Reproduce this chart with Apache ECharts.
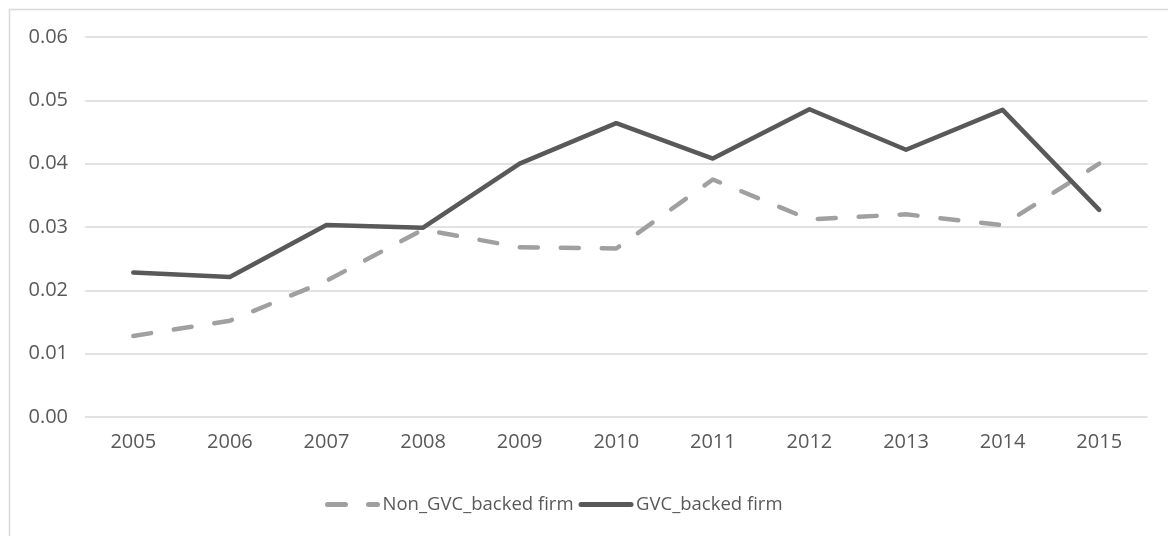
<!DOCTYPE html>
<html>
<head>
<meta charset="utf-8">
<script src="https://cdn.jsdelivr.net/npm/echarts@6/dist/echarts.min.js"></script>
<style>
html,body{margin:0;padding:0;background:#fff;}
#chart{width:1168px;height:536px;}
</style>
</head>
<body>
<div id="chart"></div>
<script>
const years = ['2005','2006','2007','2008','2009','2010','2011','2012','2013','2014','2015'];
const nonGvc = [0.0128, 0.0152, 0.0215, 0.0296, 0.0268, 0.0266, 0.0375, 0.0312, 0.0320, 0.0303, 0.0400];
const gvc = [0.0228, 0.0221, 0.0303, 0.0299, 0.0400, 0.0464, 0.0408, 0.0486, 0.0422, 0.0485, 0.0327];
const seriesNames = ['Non_GVC_backed firm', 'GVC_backed firm'];
const yTicks = {min: 0, max: 0.06, interval: 0.01};

const chart = echarts.init(document.getElementById('chart'), null, {renderer: 'canvas'});
const FONT = 'Open Sans';
chart.setOption({
  animation: false,
  backgroundColor: '#ffffff',
  graphic: [{
    type: 'rect',
    left: 7, top: 7,
    shape: {x: 0, y: 0, width: 1200, height: 560},
    style: {fill: 'none', stroke: '#d9d9d9', lineWidth: 1.5},
    z: -1, silent: true
  }],
  grid: {left: 85, right: 20.5, top: 37, bottom: 119, containLabel: false},
  legend: {
    left: 320, top: 490,
    itemWidth: 50, itemHeight: 20, itemGap: 5,
    itemStyle: {opacity: 0},
    lineStyle: {width: 5, cap: 'round'},
    textStyle: {fontFamily: FONT, fontSize: 18.5, color: '#595959'},
    data: seriesNames
  },
  xAxis: {
    type: 'category',
    data: years,
    boundaryGap: true,
    axisLine: {show: false},
    axisTick: {show: false},
    axisLabel: {fontFamily: FONT, fontSize: 20, color: '#595959', margin: 15}
  },
  yAxis: {
    type: 'value',
    min: yTicks.min, max: yTicks.max, interval: yTicks.interval,
    axisLine: {show: false},
    axisTick: {show: false},
    splitLine: {lineStyle: {color: '#d9d9d9', width: 1.5}},
    axisLabel: {fontFamily: FONT, fontSize: 20, color: '#595959', margin: 17,
      formatter: v => v.toFixed(2)}
  },
  series: [
    {
      name: seriesNames[0], type: 'line', data: nonGvc,
      symbol: 'none',
      lineStyle: {color: '#a0a0a0', width: 4.5, type: [18, 23], cap: 'round', join: 'round'},
      itemStyle: {color: '#a0a0a0'}
    },
    {
      name: seriesNames[1], type: 'line', data: gvc,
      symbol: 'none',
      lineStyle: {color: '#595959', width: 4.5, cap: 'round', join: 'round'},
      itemStyle: {color: '#595959'}
    }
  ]
});
</script>
</body>
</html>
